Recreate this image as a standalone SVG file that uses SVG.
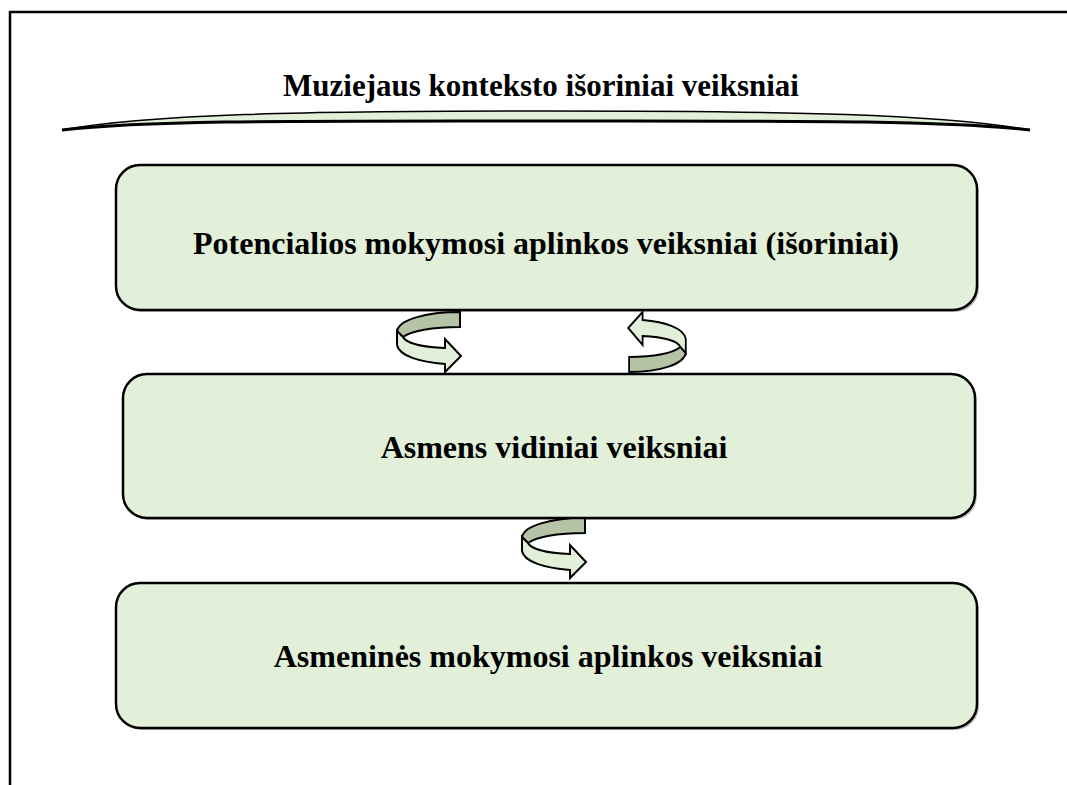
<svg xmlns="http://www.w3.org/2000/svg" width="1067" height="785" viewBox="0 0 1067 785">
  <style>
    .box { fill: #e2efd9; stroke: #000; stroke-width: 2.5; }
    .shadow { fill: #8a8a8a; opacity: 0.6; }
    .label { font-family: "Liberation Serif", "Times New Roman", serif; font-weight: bold; font-size: 32px; fill: #000; text-anchor: middle; }
    .band-back { fill: #b5c3a7; stroke: #000; stroke-width: 2; stroke-linejoin: miter; }
    .band-front { fill: #e2efd9; stroke: #000; stroke-width: 2; stroke-linejoin: miter; }
  </style>
  <defs>
    <!-- circular ribbon arrow, turning left then pointing right -->
    <g id="turn-arrow">
      <path class="band-back" d="M460,312 C 425,312 399,320 397,331 L 403,337 C 411,331 432,327 460,327 Z"/>
      <path class="band-front" d="M397,331 L397,345 C 399,356 420,362 445,364 L445,372 L461,356 L445,339 L445,348 C 422,347 406,343 403,337 Z"/>
    </g>
  </defs>

  <rect width="1067" height="785" fill="#fff"/>

  <!-- page frame: top and left rules -->
  <path d="M10,785 L10,12 L1067,12" fill="none" stroke="#000" stroke-width="2.5"/>

  <g id="title">
    <text class="label" x="541" y="96" style="font-size:31px">Muziejaus konteksto išoriniai veiksniai</text>
    <path d="M62,130 C 150,114 300,111 545,111 C 790,111 940,114 1030,130 C 940,120 790,121 545,121 C 300,121 150,120 62,130 Z" fill="#e2efd9" stroke="#000" stroke-width="1.5"/>
    <path d="M62,130 C 150,120 300,121 545,121 C 790,121 940,120 1030,130" fill="none" stroke="#000" stroke-width="3"/>
  </g>

  <g id="potential-environment">
    <rect class="shadow" x="118" y="167" width="861" height="145" rx="24"/>
    <rect class="box" x="116" y="165" width="861" height="145" rx="24"/>
    <text class="label" x="546" y="254">Potencialios mokymosi aplinkos veiksniai (išoriniai)</text>
  </g>

  <g id="inner-factors">
    <rect class="shadow" x="125" y="376" width="852" height="144" rx="24"/>
    <rect class="box" x="123" y="374" width="852" height="144" rx="24"/>
    <text class="label" x="554" y="458">Asmens vidiniai veiksniai</text>
  </g>

  <g id="personal-environment">
    <rect class="shadow" x="118" y="585" width="861" height="145" rx="24"/>
    <rect class="box" x="116" y="583" width="861" height="145" rx="24"/>
    <text class="label" x="548" y="667">Asmeninės mokymosi aplinkos veiksniai</text>
  </g>

  <g id="connectors">
    <use href="#turn-arrow"/>
    <use href="#turn-arrow" transform="translate(657,342) scale(-0.9,-1) translate(-429,-342)"/>
    <use href="#turn-arrow" transform="translate(125,206)"/>
  </g>
</svg>
